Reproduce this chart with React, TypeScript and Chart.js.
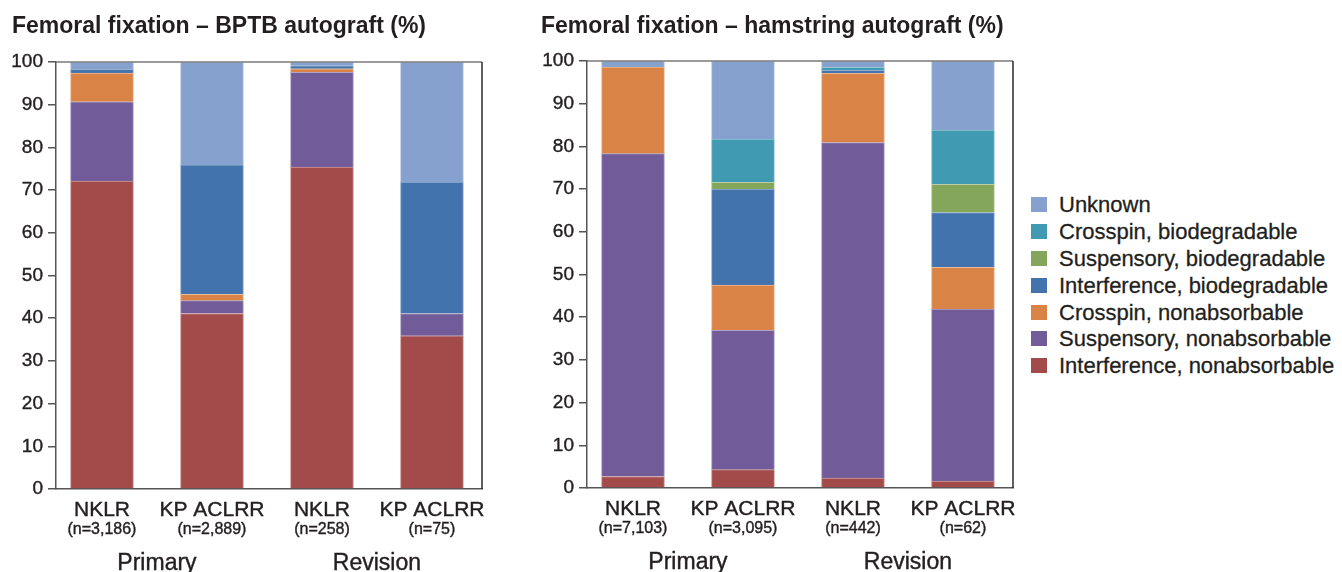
import React, { useEffect, useRef } from "react";
import { Chart, registerables } from "chart.js";

Chart.register(...registerables);

const FONT = '"Liberation Sans", Arial, Helvetica, sans-serif';
const TEXT = "#231F20";
const AXIS = "#555555";

const categories = ["NKLR", "KP ACLRR", "NKLR", "KP ACLRR"];
const groups = ["Primary", "Revision"];
const bptbCounts = ["(n=3,186)", "(n=2,889)", "(n=258)", "(n=75)"];
const hamCounts = ["(n=7,103)", "(n=3,095)", "(n=442)", "(n=62)"];

const bptbTitle = "Femoral fixation \u2013 BPTB autograft (%)";
const hamTitle = "Femoral fixation \u2013 hamstring autograft (%)";

// series, bottom to top
const seriesNames = [
  "Interference, nonabsorbable",
  "Suspensory, nonabsorbable",
  "Crosspin, nonabsorbable",
  "Interference, biodegradable",
  "Suspensory, biodegradable",
  "Crosspin, biodegradable",
  "Unknown",
];
const seriesColors = ["#A34A4B", "#715C99", "#D98446", "#4273AC", "#83A65B", "#3F9AB2", "#86A1CE"];

// BPTB autograft (%)
const bptbInterferenceNonabs = [72.1, 41.1, 75.4, 35.9];
const bptbSuspensoryNonabs = [18.6, 3.0, 22.2, 5.2];
const bptbCrosspinNonabs = [6.7, 1.5, 0.8, 0];
const bptbInterferenceBio = [0.9, 30.3, 0.7, 30.8];
const bptbSuspensoryBio = [0, 0, 0, 0];
const bptbCrosspinBio = [0, 0, 0, 0];
const bptbUnknown = [1.7, 24.1, 0.9, 28.1];

// Hamstring autograft (%)
const hamInterferenceNonabs = [2.7, 4.3, 2.3, 1.6];
const hamSuspensoryNonabs = [75.6, 32.6, 78.6, 40.3];
const hamCrosspinNonabs = [20.3, 10.6, 16.2, 9.8];
const hamInterferenceBio = [0, 22.5, 0.7, 12.8];
const hamSuspensoryBio = [0, 1.6, 0, 6.6];
const hamCrosspinBio = [0, 10.1, 0.7, 12.7];
const hamUnknown = [1.4, 18.3, 1.5, 16.2];

const bptbSeries = [
  bptbInterferenceNonabs,
  bptbSuspensoryNonabs,
  bptbCrosspinNonabs,
  bptbInterferenceBio,
  bptbSuspensoryBio,
  bptbCrosspinBio,
  bptbUnknown,
];
const hamSeries = [
  hamInterferenceNonabs,
  hamSuspensoryNonabs,
  hamCrosspinNonabs,
  hamInterferenceBio,
  hamSuspensoryBio,
  hamCrosspinBio,
  hamUnknown,
];

function tint(hex: string, f: number) {
  const n = parseInt(hex.slice(1), 16);
  const r = (n >> 16) & 255, g = (n >> 8) & 255, b = n & 255;
  const m = (c: number) => Math.round(c + (255 - c) * f);
  return `rgb(${m(r)},${m(g)},${m(b)})`;
}

type Cfg = {
  title: string;
  counts: string[];
  series: number[][];
  padLeft: number;
  padRight: number;
  yWidth: number;
  xHeight: number;
  titleBottom: number;
};

function strokeFill(ctx: CanvasRenderingContext2D, s: string, x: number, y: number) {
  ctx.strokeText(s, x, y);
  ctx.fillText(s, x, y);
}

function makeChart(canvas: HTMLCanvasElement, cfg: Cfg) {
  const labelPlugin = {
    id: "xlabels",
    afterDraw(chart: any) {
      const { ctx, chartArea, scales } = chart;
      const xs = scales.x;
      ctx.save();
      ctx.fillStyle = TEXT;
      ctx.strokeStyle = TEXT;
      ctx.lineWidth = 0.4;
      ctx.textAlign = "center";
      ctx.textBaseline = "alphabetic";
      categories.forEach((c, i) => {
        const px = xs.getPixelForValue(i);
        ctx.font = `21px ${FONT}`;
        strokeFill(ctx, c, px, chartArea.bottom + 27);
        ctx.font = `16px ${FONT}`;
        strokeFill(ctx, cfg.counts[i], px, chartArea.bottom + 45);
      });
      groups.forEach((g, gi) => {
        const px = (xs.getPixelForValue(gi * 2) + xs.getPixelForValue(gi * 2 + 1)) / 2;
        ctx.font = `23px ${FONT}`;
        strokeFill(ctx, g, px, chartArea.bottom + 80.5);
      });
      ctx.restore();
    },
  };
  const framePlugin = {
    id: "frame",
    afterDatasetsDraw(chart: any) {
      const { ctx, chartArea } = chart;
      ctx.save();
      ctx.lineWidth = 1.5;
      ctx.strokeStyle = "#7a7a7a";
      ctx.beginPath();
      ctx.moveTo(chartArea.left, chartArea.top);
      ctx.lineTo(chartArea.right, chartArea.top);
      ctx.stroke();
      ctx.strokeStyle = "#2a2a2a";
      ctx.beginPath();
      ctx.moveTo(chartArea.right, chartArea.top);
      ctx.lineTo(chartArea.right, chartArea.bottom);
      ctx.stroke();
      ctx.restore();
    },
  };

  return new Chart(canvas, {
    type: "bar",
    data: {
      datasets: cfg.series.map((vals, si) => ({
        label: seriesNames[si],
        data: vals.map((v, i) => ({ x: i, y: v })),
        backgroundColor: seriesColors[si],
        borderColor: tint(seriesColors[si], 0.45),
        borderWidth: 1,
        barThickness: 63,
      })),
    },
    options: {
      responsive: false,
      animation: false,
      events: [],
      layout: { padding: { left: cfg.padLeft, right: cfg.padRight, top: 0, bottom: 0 } },
      plugins: {
        legend: { display: false },
        tooltip: { enabled: false },
        title: {
          display: true,
          text: cfg.title,
          align: "start",
          color: TEXT,
          font: { family: FONT, size: 23, weight: "bold", lineHeight: 1.2 },
          padding: { top: 13, bottom: cfg.titleBottom },
        },
      },
      scales: {
        x: {
          type: "linear",
          stacked: true,
          min: -0.418,
          max: 3.455,
          offset: false,
          ticks: { display: false },
          grid: { display: true, drawOnChartArea: false, drawTicks: false },
          border: { display: true, color: AXIS, width: 1.5 },
          afterFit: (s: any) => {
            s.height = cfg.xHeight;
          },
        },
        y: {
          stacked: true,
          min: 0,
          max: 100,
          ticks: {
            stepSize: 10,
            color: TEXT,
            padding: 5,
            textStrokeColor: TEXT,
            textStrokeWidth: 0.4,
            font: { family: FONT, size: 19 },
          },
          grid: {
            drawOnChartArea: false,
            drawTicks: true,
            tickLength: 8,
            color: AXIS,
            lineWidth: 1.5,
          },
          border: { display: true, color: AXIS, width: 1.5 },
          afterFit: (s: any) => {
            s.width = cfg.yWidth;
          },
        },
      },
    },
    plugins: [labelPlugin, framePlugin],
  } as any);
}

function StackedPanel({ cfg, left, width }: { cfg: Cfg; left: number; width: number }) {
  const ref = useRef<HTMLCanvasElement | null>(null);
  useEffect(() => {
    if (!ref.current) return;
    const ch = makeChart(ref.current, cfg);
    return () => ch.destroy();
  }, []);
  return (
    <canvas
      ref={ref}
      width={width}
      height={572}
      style={{ position: "absolute", left, top: 0, width, height: 572 }}
    />
  );
}

export default function App() {
  const legendOrder = seriesNames.map((n, i) => i).reverse();
  return (
    <div
      style={{
        position: "absolute",
        left: 0,
        top: 0,
        width: 1342,
        height: 572,
        background: "#fff",
        overflow: "hidden",
        fontFamily: FONT,
      }}
    >
      <StackedPanel
        left={0}
        width={530}
        cfg={{
          title: bptbTitle,
          counts: bptbCounts,
          series: bptbSeries,
          padLeft: 12,
          padRight: 48,
          yWidth: 44,
          xHeight: 83,
          titleBottom: 21.4,
        }}
      />
      <StackedPanel
        left={530}
        width={500}
        cfg={{
          title: hamTitle,
          counts: hamCounts,
          series: hamSeries,
          padLeft: 11,
          padRight: 17,
          yWidth: 46,
          xHeight: 84,
          titleBottom: 20.4,
        }}
      />
      {legendOrder.map((si, row) => (
        <div key={si} style={{ position: "absolute", left: 1031, top: 197.3 + row * 26.8, height: 16 }}>
          <div
            style={{
              position: "absolute",
              left: 0,
              top: 0,
              width: 16,
              height: 15,
              background: seriesColors[si],
            }}
          />
          <div
            style={{
              position: "absolute",
              left: 28,
              top: 0,
              whiteSpace: "nowrap",
              fontSize: 22,
              lineHeight: "16px",
              color: TEXT,
              WebkitTextStroke: "0.3px " + TEXT,
            }}
          >
            {seriesNames[si]}
          </div>
        </div>
      ))}
    </div>
  );
}
